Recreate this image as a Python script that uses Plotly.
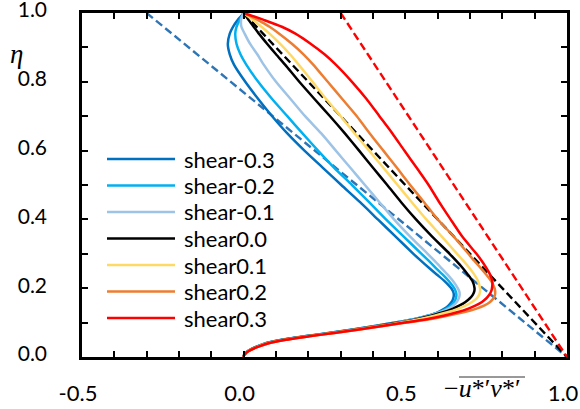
import plotly.graph_objects as go

# ---------------- data ----------------
eta = [0, 0.005, 0.01, 0.015, 0.02, 0.03, 0.04, 0.05, 0.06, 0.07, 0.08, 0.09,
       0.10, 0.11, 0.12, 0.13, 0.14, 0.15, 0.16, 0.17, 0.18, 0.19, 0.20, 0.22,
       0.24, 0.26, 0.28, 0.30, 0.35, 0.40, 0.45, 0.50, 0.55, 0.60, 0.65, 0.70,
       0.75, 0.80, 0.85, 0.88, 0.91, 0.94, 0.96, 0.98, 0.99, 1.0]

shear_m03 = [0, 0.001, 0.005, 0.010, 0.018, 0.040, 0.068, 0.118, 0.188, 0.262, 0.337, 0.405,
             0.468, 0.525, 0.568, 0.600, 0.620, 0.634, 0.643, 0.648, 0.650, 0.648, 0.642, 0.622,
             0.597, 0.572, 0.548, 0.525, 0.470, 0.415, 0.360, 0.302, 0.245, 0.188, 0.135, 0.088,
             0.045, 0.005, -0.030, -0.043, -0.049, -0.043, -0.033, -0.018, -0.009, 0]
shear_m02 = [0, 0.001, 0.005, 0.010, 0.018, 0.040, 0.068, 0.119, 0.189, 0.264, 0.339, 0.407,
             0.470, 0.527, 0.571, 0.604, 0.626, 0.641, 0.651, 0.656, 0.658, 0.656, 0.651, 0.635,
             0.615, 0.593, 0.572, 0.550, 0.495, 0.440, 0.388, 0.335, 0.280, 0.230, 0.182, 0.135,
             0.088, 0.045, 0.008, -0.010, -0.022, -0.026, -0.022, -0.012, -0.006, 0]
shear_m01 = [0, 0.001, 0.005, 0.010, 0.018, 0.041, 0.069, 0.120, 0.190, 0.266, 0.341, 0.409,
             0.472, 0.530, 0.574, 0.608, 0.632, 0.648, 0.659, 0.665, 0.668, 0.667, 0.662, 0.648,
             0.630, 0.610, 0.590, 0.569, 0.515, 0.465, 0.420, 0.375, 0.330, 0.285, 0.240, 0.190,
             0.145, 0.100, 0.062, 0.042, 0.020, 0.003, -0.007, -0.008, -0.005, 0]
shear_00 = [0, 0.001, 0.005, 0.011, 0.019, 0.042, 0.071, 0.122, 0.193, 0.269, 0.344, 0.413,
            0.478, 0.535, 0.580, 0.617, 0.646, 0.668, 0.686, 0.699, 0.708, 0.713, 0.714, 0.708,
            0.693, 0.676, 0.657, 0.637, 0.583, 0.533, 0.487, 0.444, 0.400, 0.357, 0.313, 0.267,
            0.219, 0.172, 0.128, 0.100, 0.073, 0.047, 0.031, 0.015, 0.008, 0]
shear_01 = [0, 0.001, 0.005, 0.011, 0.019, 0.043, 0.073, 0.125, 0.196, 0.272, 0.348, 0.418,
            0.485, 0.542, 0.590, 0.630, 0.662, 0.687, 0.706, 0.720, 0.728, 0.731, 0.731, 0.725,
            0.713, 0.697, 0.679, 0.660, 0.613, 0.565, 0.520, 0.476, 0.432, 0.388, 0.343, 0.300,
            0.255, 0.213, 0.170, 0.143, 0.113, 0.080, 0.055, 0.028, 0.014, 0]
shear_02 = [0, 0.001, 0.006, 0.012, 0.021, 0.046, 0.078, 0.132, 0.204, 0.282, 0.360, 0.432,
            0.505, 0.575, 0.630, 0.680, 0.718, 0.745, 0.762, 0.772, 0.777, 0.778, 0.776, 0.766,
            0.750, 0.732, 0.713, 0.695, 0.650, 0.600, 0.558, 0.515, 0.474, 0.432, 0.390, 0.350,
            0.305, 0.260, 0.215, 0.185, 0.150, 0.110, 0.080, 0.043, 0.022, 0]
shear_03 = [0, 0.001, 0.006, 0.012, 0.021, 0.046, 0.077, 0.130, 0.202, 0.279, 0.356, 0.428,
            0.498, 0.565, 0.618, 0.660, 0.693, 0.718, 0.737, 0.750, 0.759, 0.765, 0.768, 0.769,
            0.762, 0.750, 0.736, 0.720, 0.676, 0.640, 0.605, 0.572, 0.535, 0.497, 0.460, 0.420,
            0.380, 0.335, 0.285, 0.250, 0.208, 0.160, 0.118, 0.062, 0.032, 0]

series_names = ["shear-0.3", "shear-0.2", "shear-0.1", "shear0.0",
                "shear0.1", "shear0.2", "shear0.3"]
series_values = [shear_m03, shear_m02, shear_m01, shear_00, shear_01, shear_02, shear_03]
series_colors = ["#0070C0", "#00B0F0", "#9DC3E6", "#000000",
                 "#FFD966", "#ED7D31", "#FF0000"]

# linear total-stress reference lines (dashed)
ref_eta = [1.0, 0.0]
ref_x_m03 = [-0.3, 1.0]
ref_x_00 = [0.0, 1.0]
ref_x_03 = [0.3, 1.0]
ref_lines = [ref_x_m03, ref_x_00, ref_x_03]
ref_colors = ["#2E75B6", "#000000", "#FF0000"]

x_tick_vals = [-0.5, 0.0, 0.5, 1.0]
x_tick_text = ["-0.5", "0.0", "0.5", "1.0"]
y_tick_vals = [0.0, 0.2, 0.4, 0.6, 0.8, 1.0]
y_tick_text = ["0.0", "0.2", "0.4", "0.6", "0.8", "1.0"]

# ---------------- figure ----------------
W, H = 580, 409
ML, MT = 82, 13
MR = W - 567
MB = H - 357
PW, PH = W - ML - MR, H - MT - MB


def px2paper(px, py):
    """page pixel -> paper coordinates"""
    return (px - ML) / PW, (H - MB - py) / PH


fig = go.Figure()

for xs, col in zip(ref_lines, ref_colors):
    fig.add_trace(go.Scatter(x=xs, y=ref_eta, mode="lines", showlegend=False,
                             line=dict(color=col, width=2.4, dash="8px,4px"),
                             hoverinfo="skip"))

for name, vals, col in zip(series_names, series_values, series_colors):
    fig.add_trace(go.Scatter(x=vals, y=eta, mode="lines", name=name, showlegend=False,
                             line=dict(color=col, width=2.5, shape="spline", smoothing=0.6)))

# custom legend (long line swatches like the original)
shapes = []
annotations = []
for i, (name, col) in enumerate(zip(series_names, series_colors)):
    cy = 159 + 26.5 * i
    x0, y0 = px2paper(107, cy)
    x1, _ = px2paper(175, cy)
    shapes.append(dict(type="line", xref="paper", yref="paper", x0=x0, x1=x1, y0=y0, y1=y0,
                       line=dict(color=col, width=2.5)))
    tx, ty = px2paper(182, cy)
    annotations.append(dict(xref="paper", yref="paper", x=tx, y=ty, xanchor="left",
                            yanchor="middle", text=name, showarrow=False,
                            font=dict(family="Lato", size=22, color="black")))

# axis labels
ex, ey = px2paper(16, 54)
annotations.append(dict(xref="paper", yref="paper", x=ex, y=ey, text="<i>η</i>",
                        showarrow=False, xanchor="center", yanchor="middle",
                        font=dict(family="Liberation Serif", size=27, color="black")))
lx, ly = px2paper(482, 388)
annotations.append(dict(xref="paper", yref="paper", x=lx, y=ly,
                        text="−<i>u</i>*′<i>v</i>*′",
                        showarrow=False, xanchor="center", yanchor="middle",
                        font=dict(family="Liberation Serif", size=26, color="black")))
ox0, oy = px2paper(459, 377)
ox1, _ = px2paper(525, 377)
shapes.append(dict(type="line", xref="paper", yref="paper", x0=ox0, x1=ox1, y0=oy, y1=oy,
                   line=dict(color="#333333", width=1)))

axis_common = dict(showline=True, linecolor="black", linewidth=2.5, mirror="allticks",
                   ticks="inside", ticklen=6, tickwidth=2, tickcolor="black",
                   showgrid=False, zeroline=False, automargin=False,
                   ticklabeloverflow="allow")

fig.update_layout(
    width=W, height=H,
    margin=dict(l=ML, r=MR, t=MT, b=MB),
    paper_bgcolor="white", plot_bgcolor="white",
    showlegend=False,
    shapes=shapes, annotations=annotations,
    xaxis=dict(range=[-0.5, 1.0], tickmode="array", tickvals=x_tick_vals,
               ticktext=x_tick_text, ticklabelstandoff=15, ticklabelshift=-4,
               tickfont=dict(family="Lato", size=22, color="black"),
               minor=dict(tickmode="linear", tick0=0, dtick=0.1, ticks="inside",
                          ticklen=6, tickwidth=2, tickcolor="black", showgrid=False),
               **axis_common),
    yaxis=dict(range=[0, 1.0], tickmode="array", tickvals=y_tick_vals,
               ticktext=y_tick_text, ticklabelstandoff=28, ticklabelshift=-3,
               tickfont=dict(family="Lato", size=21, color="black"),
               minor=dict(tickmode="linear", tick0=0, dtick=0.1, ticks="inside",
                          ticklen=6, tickwidth=2, tickcolor="black", showgrid=False),
               **axis_common),
)

# remove the browser's default 8px page margin so the figure fills the window
fig.write_html("out.html", config={"displayModeBar": False},
               post_script="document.body.style.margin='0';")
